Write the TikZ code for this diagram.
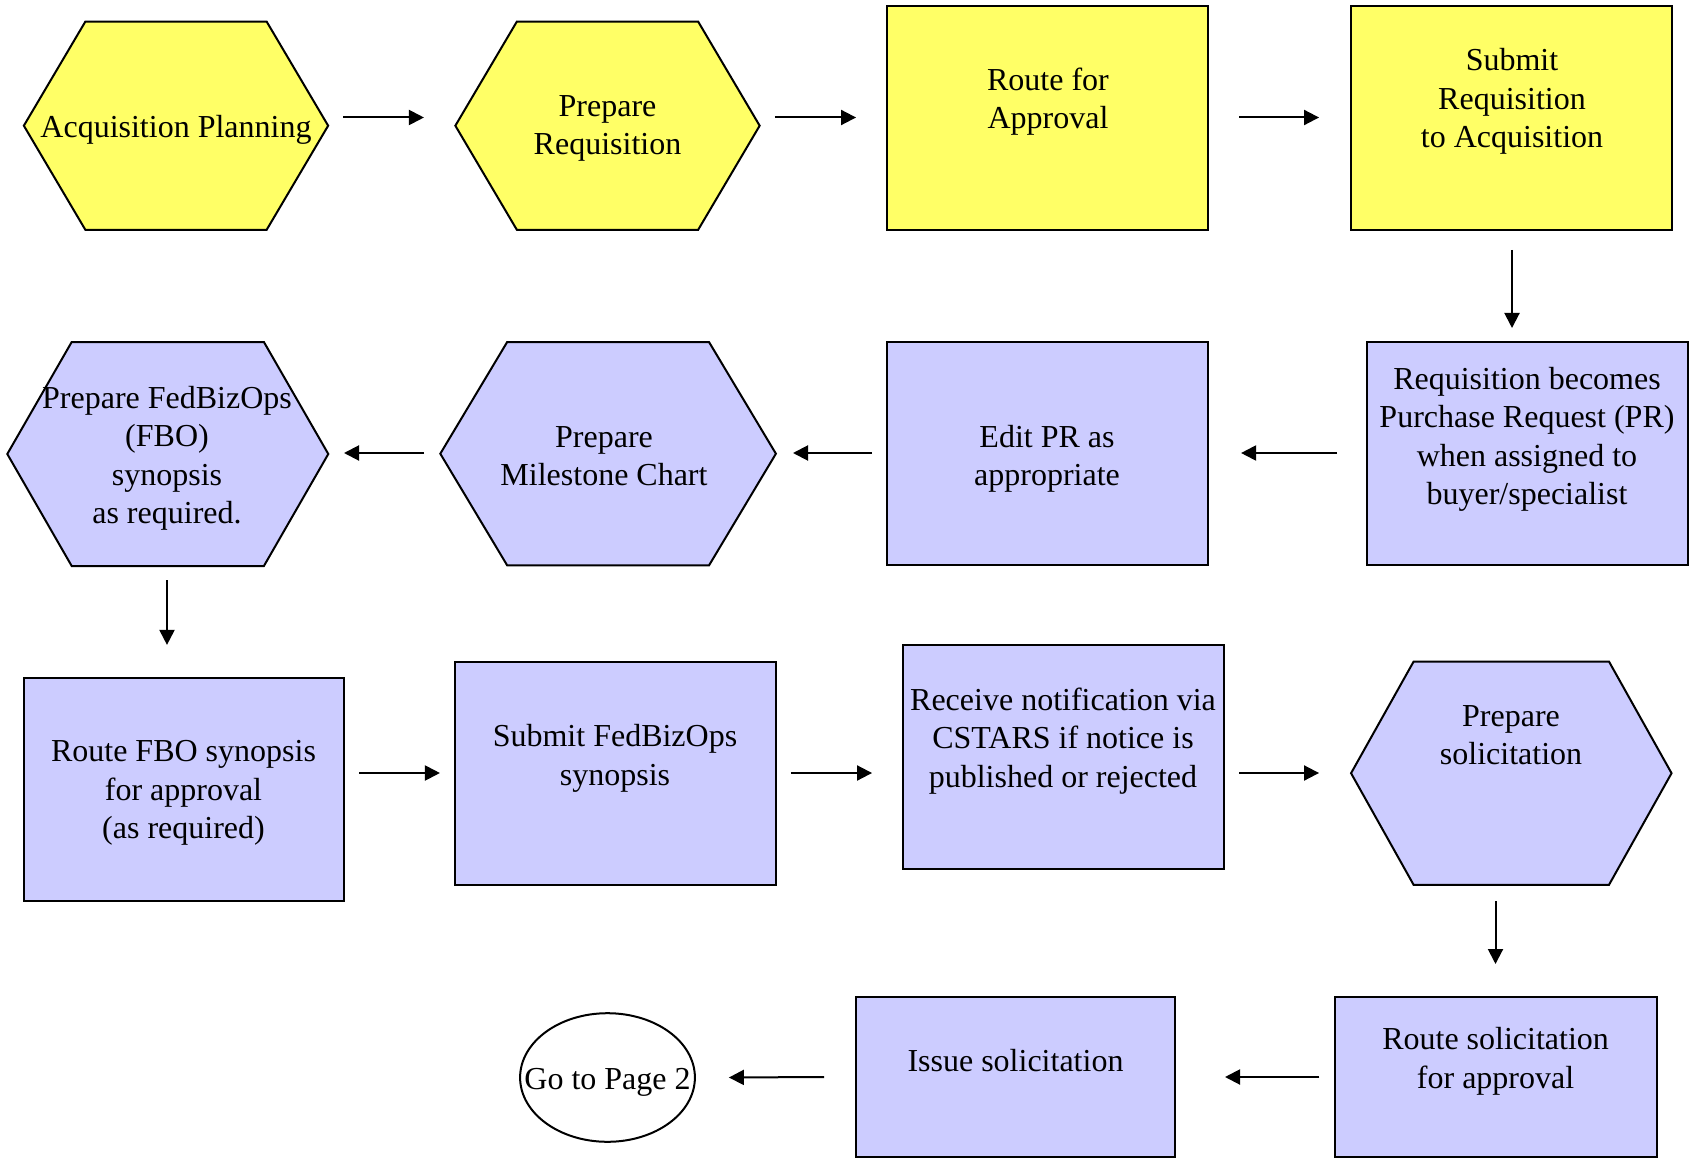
\documentclass[tikz,border=0pt]{standalone}
\usepackage{fontspec}
\setmainfont{Liberation Serif}
\usetikzlibrary{arrows.meta,shapes.geometric}
\definecolor{pyellow}{RGB}{255,255,102}
\definecolor{pblue}{RGB}{204,204,255}
\tikzset{
  shapebox/.style={draw, line width=2pt, inner sep=0pt, outer sep=0pt},
  rectbox/.style={shapebox, rectangle, minimum width=320.5pt, minimum height=223.4pt},
  hexholder/.style={rectangle, inner sep=0pt, outer sep=0pt},
  hexline/.style={draw, line width=2pt, line join=miter},
  txt/.style={align=center, font=\fontsize{32}{38.5}\selectfont, inner sep=0pt,
    execute at begin node=\strut, execute at end node=\strut, yshift=-4pt},
  flow/.style={line width=2pt, -{Triangle[length=15pt,width=15pt]}},
}
\newcommand{\hexdraw}[3]{%
  \path[hexline, fill=#3] (#1.west) -- ([xshift=#2pt]#1.north west) -- ([xshift=-#2pt]#1.north east)
    -- (#1.east) -- ([xshift=-#2pt]#1.south east) -- ([xshift=#2pt]#1.south west) -- cycle;}
\begin{document}
\begin{tikzpicture}[x=1pt,y=-1pt]
\useasboundingbox[fill=white] (0,0) rectangle (1692,1158);

% ---- row 1
\node[hexholder, minimum width=304.3pt, minimum height=208.2pt] (h1) at (176,125.7) {};
\node[hexholder, minimum width=304.3pt, minimum height=208.2pt] (h2) at (607.5,125.7) {};
\hexdraw{h1}{61.5}{pyellow}
\hexdraw{h2}{61.5}{pyellow}
\node[rectbox, fill=pyellow] (r3) at (1047.3,118.2) {};
\node[rectbox, fill=pyellow] (r4) at (1511.3,118.2) {};

% ---- row 2
\node[rectbox, fill=pblue] (r5) at (1527.5,453.7) {};
\node[rectbox, fill=pblue] (r6) at (1047.3,453.7) {};
\node[hexholder, minimum width=335.6pt, minimum height=223.4pt] (h7) at (608.1,453.7) {};
\node[hexholder, minimum width=321pt, minimum height=224pt] (h8) at (167.8,454) {};
\hexdraw{h7}{66.9}{pblue}
\hexdraw{h8}{64.4}{pblue}

% ---- row 3
\node[rectbox, fill=pblue] (r9) at (184,789.3) {};
\node[rectbox, fill=pblue] (r10) at (615.6,773.2) {};
\node[rectbox, fill=pblue] (r11) at (1063.5,757) {};
\node[hexholder, minimum width=320.5pt, minimum height=223.4pt] (h12) at (1511.3,773.2) {};
\hexdraw{h12}{62.6}{pblue}

% ---- row 4
\node[shapebox, fill=pblue, minimum width=322pt, minimum height=160pt] (r13) at (1496.3,1077) {};
\node[shapebox, fill=pblue, minimum width=319.4pt, minimum height=160pt] (r14) at (1015.4,1077) {};
\node[shapebox, ellipse, fill=white, minimum width=174.8pt, minimum height=128.6pt] (e15) at (607.5,1077.5) {};

% ---- texts
\node[txt] (t1) at (176,126) {Acquisition Planning};
\node[txt] (t2) at (607.5,127) {Prepare\\Requisition};
\node[txt] (t3) at (1048,99.8) {Route for\\Approval};
\node[txt] (t4) at (1512,99.8) {Submit\\Requisition\\to Acquisition};
\node[txt] (t5) at (1527,437.5) {Requisition becomes\\Purchase Request (PR)\\when assigned to\\buyer/specialist};
\node[txt] (t6) at (1047,457) {Edit PR as\\appropriate};
\node[txt] (t7) at (604,458) {Prepare\\Milestone Chart};
\node[txt] (t8) at (167,456.5) {Prepare FedBizOps\\(FBO)\\synopsis\\as required.};
\node[txt] (t9) at (183.5,791.5) {Route FBO synopsis\\for approval\\(as required)};
\node[txt] (t10) at (615,756.5) {Submit FedBizOps\\synopsis};
\node[txt] (t11) at (1063,739.5) {Receive notification via\\CSTARS if notice is\\published or rejected};
\node[txt] (t12) at (1511,737) {Prepare\\solicitation};
\node[txt] (t13) at (1495.6,1059.5) {Route solicitation\\for approval};
\node[txt] (t14) at (1015.5,1059.7) {Issue solicitation};
\node[txt] (t15) at (607.5,1078) {Go to Page 2};

% ---- connectors
\draw[flow] ([shift={(15,-8.2)}]h1.east) -- ([shift={(-31.4,-8.2)}]h2.west);
\draw[flow] ([shift={(15.3,-8.2)}]h2.east) -- ([shift={(-31,-0.7)}]r3.west);
\draw[flow] ([shift={(31.5,-0.7)}]r3.east) -- ([shift={(-32,-0.7)}]r4.west);
\draw[flow] ([shift={(0.7,20)}]r4.south) -- ([shift={(-15.5,-14)}]r5.north);
\draw[flow] ([shift={(-30.2,-0.7)}]r5.west) -- ([shift={(33.5,-0.7)}]r6.east);
\draw[flow] ([shift={(-15,-0.7)}]r6.west) -- ([shift={(17.1,-0.7)}]h7.east);
\draw[flow] ([shift={(-16.3,-0.7)}]h7.west) -- ([shift={(15.7,-1)}]h8.east);
\draw[flow] ([shift={(-0.8,14)}]h8.south) -- ([shift={(-17,-32.7)}]r9.north);
\draw[flow] ([shift={(14.8,-16.3)}]r9.east) -- ([shift={(-15.4,-0.2)}]r10.west);
\draw[flow] ([shift={(15.1,-0.2)}]r10.east) -- ([shift={(-31.2,16)}]r11.west);
\draw[flow] ([shift={(15.3,16)}]r11.east) -- ([shift={(-32,-0.2)}]h12.west);
\draw[flow] ([shift={(-15.8,16.1)}]h12.south) -- ([shift={(-0.8,-33)}]r13.north);
\draw[flow] ([shift={(-16,0)}]r13.west) -- ([shift={(49.9,0)}]r14.east);
\draw[flow] ([shift={(-31.7,0)}]r14.west) -- ([shift={(34,0)}]e15.east);
\end{tikzpicture}
\end{document}
